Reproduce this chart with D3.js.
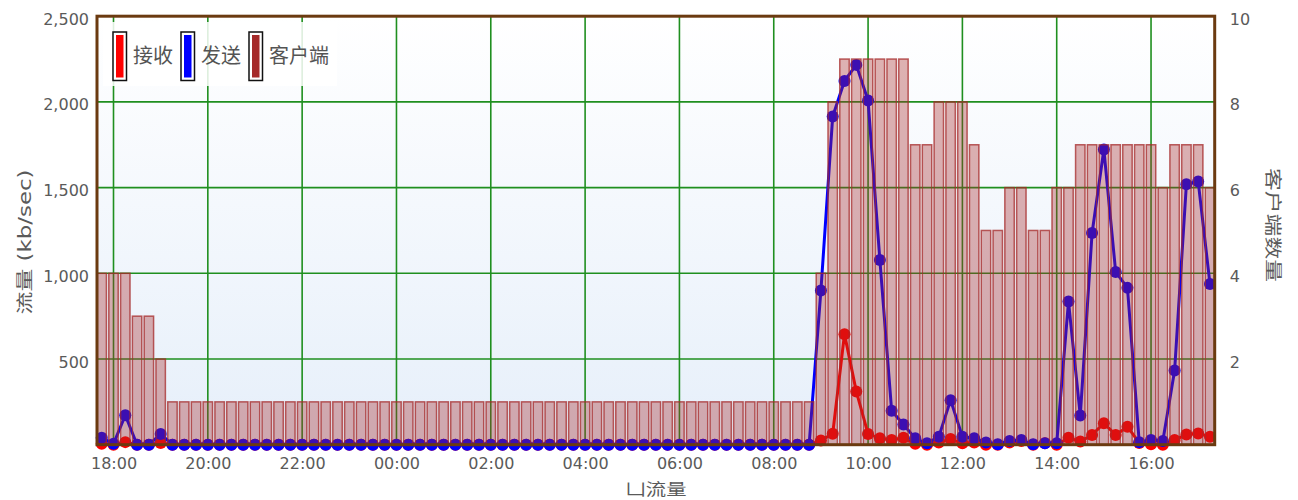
<!DOCTYPE html>
<html>
<head>
<meta charset="utf-8">
<script src="https://cdn.jsdelivr.net/npm/d3@7"></script>
<style>
body { margin: 0; background: #fff; }
text { font-family: "DejaVu Sans", "Noto Sans CJK SC", sans-serif; }
</style>
</head>
<body>
<div id="chart"></div>
<script>
// 15 minute samples, 17:45 -> 17:15 next day
var startTime = Date.UTC(2014, 0, 1, 17, 45);
var stepMinutes = 15;

var recv = [5, 0, 15, 0, 0, 10,
	0, 0, 0, 0, 0, 0, 0, 0, 0, 0, 0,
	0, 0, 0, 0, 0, 0, 0, 0, 0, 0, 0,
	0, 0, 0, 0, 0, 0, 0, 0, 0, 0, 0,
	0, 0, 0, 0, 0, 0, 0, 0, 0, 0, 0,
	0, 0, 0, 0, 0, 0, 0, 0, 0, 0, 0,
	25, 64, 645, 311, 63, 37, 27, 40, 5, 0, 13, 33, 8, 13, 0, 0, 13,
	22, 0, 8, 0, 41, 18, 57, 125, 57, 105, 10, 2, 0, 27, 60, 66, 47];

var send = [40, 5, 172, 0, 0, 62,
	0, 0, 0, 0, 0, 0, 0, 0, 0, 0, 0,
	0, 0, 0, 0, 0, 0, 0, 0, 0, 0, 0,
	0, 0, 0, 0, 0, 0, 0, 0, 0, 0, 0,
	0, 0, 0, 0, 0, 0, 0, 0, 0, 0, 0,
	0, 0, 0, 0, 0, 0, 0, 0, 0, 0, 0,
	900, 1915, 2122, 2216, 2008, 1078, 198, 118, 37, 8, 47, 260, 47, 37, 13, 3, 22,
	27, 2, 8, 8, 835, 170, 1235, 1722, 1008, 915, 14, 27, 22, 433, 1520, 1535, 937];

var clients = [4, 4, 4, 3, 3, 2,
	1, 1, 1, 1, 1, 1, 1, 1, 1, 1, 1,
	1, 1, 1, 1, 1, 1, 1, 1, 1, 1, 1,
	1, 1, 1, 1, 1, 1, 1, 1, 1, 1, 1,
	1, 1, 1, 1, 1, 1, 1, 1, 1, 1, 1,
	1, 1, 1, 1, 1, 1, 1, 1, 1, 1, 1,
	4, 8, 9, 9, 9, 9, 9, 9, 7, 7, 8, 8, 8, 7, 5, 5, 6,
	6, 5, 5, 6, 6, 7, 7, 7, 7, 7, 7, 7, 6, 7, 7, 7, 6];

var seriesNames = ["接收", "发送", "客户端"];
var seriesColors = ["#ff0000", "#0000ff", "#a52a2a"];
var leftTicks = [500, 1000, 1500, 2000, 2500];
var rightTicks = [2, 4, 6, 8, 10];

var margin = { top: 16.2, right: 83.3, bottom: 55.3, left: 97 },
	width = 1298 - margin.left - margin.right,
	height = 500 - margin.top - margin.bottom;

var times = recv.map(function (d, i) {
	return new Date(startTime + i * stepMinutes * 60000);
});
var barMs = 12 * 60000;

var x = d3.scaleUtc()
	.domain([new Date(+times[0] - barMs / 2), new Date(+times[times.length - 1] + barMs / 2)])
	.range([0, width]);
var yL = d3.scaleLinear().domain([0, 2500]).range([height, 0]);
var yR = d3.scaleLinear().domain([0, 10]).range([height, 0]);
var xTicks = x.ticks(d3.utcHour.every(2));

var root = d3.select("#chart")
	.append("svg")
	.attr("width", 1298)
	.attr("height", 500);

var grad = root.append("defs").append("linearGradient")
	.attr("id", "bg").attr("x1", 0).attr("y1", 0).attr("x2", 0).attr("y2", 1);
grad.append("stop").attr("offset", "0%").attr("stop-color", "#ffffff");
grad.append("stop").attr("offset", "100%").attr("stop-color", "#e6effa");

var svg = root.append("g")
	.attr("transform", "translate(" + margin.left + "," + margin.top + ")");

svg.append("rect")
	.attr("width", width)
	.attr("height", height)
	.attr("fill", "url(#bg)");

// grid
svg.selectAll(".hgrid")
	.data(leftTicks.slice(0, -1))
	.enter()
	.append("line")
	.attr("x1", 0).attr("x2", width)
	.attr("y1", function (d) { return yL(d); })
	.attr("y2", function (d) { return yL(d); })
	.attr("stroke", "#1f8f1f")
	.attr("stroke-width", 1.6);

svg.selectAll(".vgrid")
	.data(xTicks)
	.enter()
	.append("line")
	.attr("y1", 0).attr("y2", height)
	.attr("x1", function (d) { return x(d); })
	.attr("x2", function (d) { return x(d); })
	.attr("stroke", "#1f8f1f")
	.attr("stroke-width", 1.6);

// lines
[recv, send].forEach(function (vals, k) {
	var line = d3.line()
		.x(function (d, i) { return x(times[i]); })
		.y(function (d) { return yL(d); });
	svg.append("path")
		.datum(vals)
		.attr("d", line)
		.attr("fill", "none")
		.attr("stroke", seriesColors[k])
		.attr("stroke-width", 3)
		.attr("stroke-linejoin", "round");
	svg.selectAll(".dot" + k)
		.data(vals)
		.enter()
		.append("circle")
		.attr("cx", function (d, i) { return x(times[i]); })
		.attr("cy", function (d) { return yL(d); })
		.attr("r", 6)
		.attr("fill", seriesColors[k]);
});

// client bars on top
svg.selectAll(".bar")
	.data(clients)
	.enter()
	.append("rect")
	.attr("x", function (d, i) { return x(new Date(+times[i] - barMs / 2)); })
	.attr("width", function (d, i) { return x(new Date(+times[i] + barMs / 2)) - x(new Date(+times[i] - barMs / 2)); })
	.attr("y", function (d) { return yR(d); })
	.attr("height", function (d) { return height - yR(d); })
	.attr("fill", seriesColors[2])
	.attr("fill-opacity", 0.36)
	.attr("stroke", seriesColors[2])
	.attr("stroke-opacity", 0.75)
	.attr("stroke-width", 1.5);

svg.append("rect")
	.attr("width", width)
	.attr("height", height)
	.attr("fill", "none")
	.attr("stroke", "#6b3a10")
	.attr("stroke-width", 3);

// axes
var axL = svg.append("g")
	.call(d3.axisLeft(yL).tickValues(leftTicks).tickSize(0).tickPadding(8).tickFormat(d3.format(",")));
var axR = svg.append("g")
	.attr("transform", "translate(" + width + ",0)")
	.call(d3.axisRight(yR).tickValues(rightTicks).tickSize(0).tickPadding(15).tickFormat(d3.format("d")));
var axB = svg.append("g")
	.attr("transform", "translate(0," + height + ")")
	.call(d3.axisBottom(x).tickValues(xTicks).tickSize(0).tickPadding(13).tickFormat(d3.utcFormat("%H:%M")));

[axL, axR].forEach(function (ax) {
	ax.selectAll("text").attr("dy", "0.5em");
});
[axL, axR, axB].forEach(function (ax) {
	ax.select(".domain").remove();
	ax.selectAll("text")
		.attr("fill", "#5a5a5a")
		.style("font-size", "16px")
		.style("font-family", "'DejaVu Sans', sans-serif");
});

// titles
root.append("text")
	.attr("transform", "translate(25,242) rotate(-90)")
	.attr("text-anchor", "middle")
	.attr("dominant-baseline", "central")
	.attr("textLength", 145)
	.attr("lengthAdjust", "spacingAndGlyphs")
	.attr("fill", "#5a5a5a")
	.style("font-size", "17px")
	.text("流量 (kb/sec)");

root.append("text")
	.attr("transform", "translate(1273,225) rotate(90)")
	.attr("text-anchor", "middle")
	.attr("dominant-baseline", "central")
	.attr("textLength", 114)
	.attr("lengthAdjust", "spacingAndGlyphs")
	.attr("fill", "#5a5a5a")
	.style("font-size", "17px")
	.text("客户端数量");

root.append("text")
	.attr("x", 656)
	.attr("y", 495)
	.attr("text-anchor", "middle")
	.attr("textLength", 61)
	.attr("lengthAdjust", "spacingAndGlyphs")
	.attr("fill", "#5a5a5a")
	.style("font-size", "16px")
	.text("凵流量");

// legend
var legend = root.append("g");
legend.append("rect")
	.attr("x", 103).attr("y", 22)
	.attr("width", 234).attr("height", 64)
	.attr("fill", "#ffffff")
	.attr("fill-opacity", 0.85);

var lx = 113;
seriesNames.forEach(function (name, k) {
	legend.append("rect")
		.attr("x", lx).attr("y", 32)
		.attr("width", 13.5).attr("height", 48.5)
		.attr("fill", "#fff")
		.attr("stroke", "#111")
		.attr("stroke-width", 1.5);
	legend.append("rect")
		.attr("x", lx + 3).attr("y", 35)
		.attr("width", 7.5).attr("height", 42.5)
		.attr("fill", seriesColors[k]);
	var t = legend.append("text")
		.attr("x", lx + 20)
		.attr("y", 63)
		.attr("fill", "#545454")
		.style("font-size", "20px")
		.text(name);
	lx = lx + 20 + t.node().getComputedTextLength() + 8;
});
</script>
</body>
</html>
